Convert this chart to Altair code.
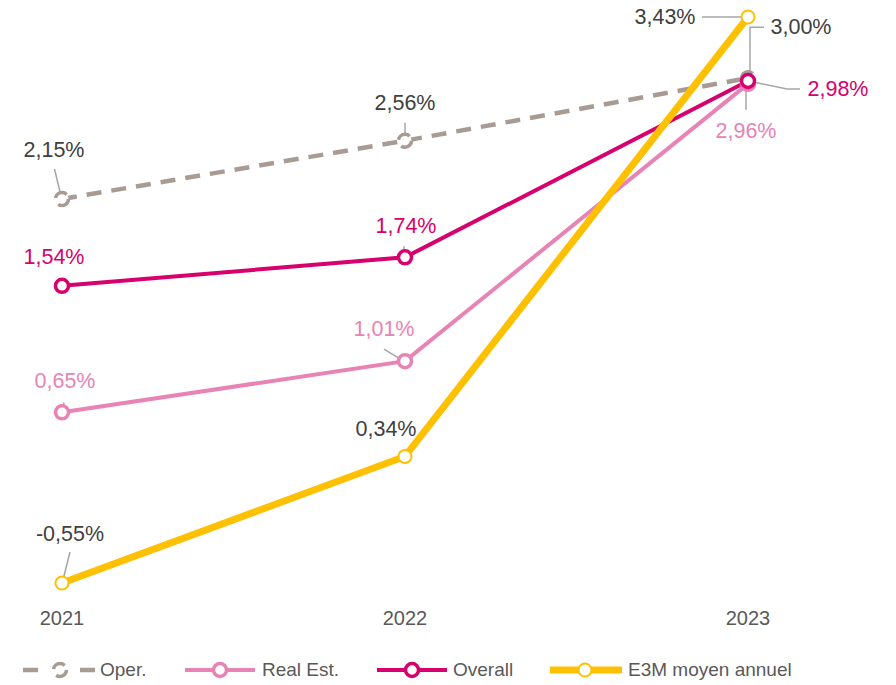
import altair as alt
import pandas as pd

# ---- data ----
years = [2021, 2022, 2023]
series = ["Oper.", "Real Est.", "Overall", "E3M moyen annuel"]
oper = [2.15, 2.56, 3.00]
real_est = [0.65, 1.01, 2.96]
overall = [1.54, 1.74, 2.98]
e3m = [-0.55, 0.34, 3.43]
values = {"Oper.": oper, "Real Est.": real_est, "Overall": overall, "E3M moyen annuel": e3m}

# ---- styles ----
FONT = "Liberation Sans, Arial, sans-serif"
DARK = "#404040"
GREY_TXT = "#595959"
LEADER = "#a6a6a6"
colors = {"Oper.": "#a79b94", "Real Est.": "#e883b5", "Overall": "#d6006e", "E3M moyen annuel": "#ffc000"}
widths = {"Oper.": 4.5, "Real Est.": 4, "Overall": 4, "E3M moyen annuel": 7}
dashes = {"Oper.": [15, 10]}
pt_stroke = {"Oper.": 3.5, "Real Est.": 3.5, "Overall": 3.5, "E3M moyen annuel": 2}
pt_size = {"Oper.": 170, "Real Est.": 170, "Overall": 170, "E3M moyen annuel": 170}
label_color = {"Oper.": DARK, "Real Est.": "#e883b5", "Overall": "#d6006e", "E3M moyen annuel": DARK}

X_RANGE = [54, 740]
Y_DOMAIN = [-0.55, 3.43]
Y_RANGE = [575, 9]
px_per_year = (X_RANGE[1] - X_RANGE[0]) / (years[-1] - years[0])
px_per_unit = (Y_RANGE[0] - Y_RANGE[1]) / (Y_DOMAIN[1] - Y_DOMAIN[0])

xs = alt.Scale(domain=[years[0], years[-1]], range=X_RANGE)
ys = alt.Scale(domain=Y_DOMAIN, range=Y_RANGE)

# label offsets in pixels (dx, dy) from each point, and leader polylines
label_off = {
    ("Oper.", 0): (-8, -48), ("Oper.", 1): (0, -37), ("Oper.", 2): (53, -50),
    ("Overall", 0): (-8, -28), ("Overall", 1): (1, -30), ("Overall", 2): (90, 9),
    ("Real Est.", 0): (3, -30), ("Real Est.", 1): (-21, -31), ("Real Est.", 2): (-2, 48),
    ("E3M moyen annuel", 0): (8, -48), ("E3M moyen annuel", 1): (-19, -26), ("E3M moyen annuel", 2): (-83, 1),
}
leaders = {
    ("Oper.", 0): [(-1, -3), (-7.5, -30)],
    ("Oper.", 1): [(0, -5), (0, -18)],
    ("Oper.", 2): [(16, -51), (2, -51), (2, -4)],
    ("Overall", 1): [(-1, -3), (-1, -11)],
    ("Overall", 2): [(5, 1), (39, 8), (52, 8)],
    ("Real Est.", 0): [(0, -2), (2, -10)],
    ("Real Est.", 1): [(-3, -1), (-21, -12)],
    ("Real Est.", 2): [(-2, 4), (-2, 26)],
    ("E3M moyen annuel", 0): [(1, -3), (8, -31)],
    ("E3M moyen annuel", 2): [(-3, 0), (-46, 0)],
}

def fmt(v):
    return f"{v:.2f}".replace(".", ",") + "%"

layers = []

# leader lines
rows = []
for (s, i), pts in leaders.items():
    v = values[s][i]
    for k, (dx, dy) in enumerate(pts):
        rows.append({"lid": f"{s}-{i}", "k": k,
                     "x": years[i] + dx / px_per_year,
                     "y": v - dy / px_per_unit})
ldf = pd.DataFrame(rows)
layers.append(alt.Chart(ldf).mark_line(color=LEADER, strokeWidth=1.5).encode(
    x=alt.X("x:Q", scale=xs, axis=None),
    y=alt.Y("y:Q", scale=ys, axis=None),
    detail="lid:N", order="k:Q"))

# series lines and points
for s in series:
    df = pd.DataFrame({"year": years, "value": values[s]})
    kw = {}
    if s in dashes:
        kw["strokeDash"] = dashes[s]
    layers.append(alt.Chart(df).mark_line(color=colors[s], strokeWidth=widths[s], **kw).encode(
        x=alt.X("year:Q", scale=xs, axis=None),
        y=alt.Y("value:Q", scale=ys, axis=None)))
for s in series:
    df = pd.DataFrame({"year": years, "value": values[s]})
    kw = {}
    if s in dashes:
        kw["strokeDash"] = [14, 7]
    layers.append(alt.Chart(df).mark_point(shape="circle", filled=True, fill="white", stroke=colors[s],
                                           strokeWidth=pt_stroke[s], size=pt_size[s], opacity=1, **kw).encode(
        x=alt.X("year:Q", scale=xs, axis=None),
        y=alt.Y("value:Q", scale=ys, axis=None)))

# data labels
lrows = []
for (s, i), (dx, dy) in label_off.items():
    v = values[s][i]
    lrows.append({"x": years[i] + dx / px_per_year, "y": v - dy / px_per_unit,
                  "label": fmt(v), "col": label_color[s]})
tdf = pd.DataFrame(lrows)
layers.append(alt.Chart(tdf).mark_text(font=FONT, fontSize=21.5, align="center", baseline="middle").encode(
    x=alt.X("x:Q", scale=xs, axis=None),
    y=alt.Y("y:Q", scale=ys, axis=None),
    text="label:N",
    color=alt.Color("col:N", scale=None)))

# year labels
ydf = pd.DataFrame({"year": years, "lab": [str(y) for y in years]})
layers.append(alt.Chart(ydf).mark_text(font=FONT, fontSize=20, align="center", baseline="middle",
                                       color=GREY_TXT).encode(
    x=alt.X("year:Q", scale=xs, axis=None),
    y=alt.value(611),
    text="lab:N"))

# legend (manual)
one = pd.DataFrame({"a": [0]})
LY = 662
leg = [
    # series, line x0, x1, circle x, text x
    ("Oper.", 15, 87, 52, 92),
    ("Real Est.", 177, 247, 212, 254),
    ("Overall", 369, 439, 404, 445),
    ("E3M moyen annuel", 542, 614, 577, 620),
]
for s, x0, x1, cx, tx in leg:
    kw = {}
    if s in dashes:
        kw["strokeDash"] = [15, 42]
    layers.append(alt.Chart(one).mark_rule(color=colors[s], strokeWidth=widths[s], **kw).encode(
        x=alt.value(x0), x2=alt.value(x1), y=alt.value(LY)))
    pkw = {}
    if s in dashes:
        pkw["strokeDash"] = [14, 7]
    layers.append(alt.Chart(one).mark_point(shape="circle", filled=True, fill="white", stroke=colors[s],
                                            strokeWidth=pt_stroke[s], size=pt_size[s], opacity=1, **pkw).encode(
        x=alt.value(cx), y=alt.value(LY)))
    layers.append(alt.Chart(one).mark_text(font=FONT, fontSize=19, align="left", baseline="middle",
                                           color=GREY_TXT, text=s).encode(
        x=alt.value(tx), y=alt.value(LY)))

chart = alt.layer(*layers).properties(
    width=880, height=677,
    autosize=alt.AutoSizeParams(type="none"),
    padding={"left": 0, "right": 0, "top": 0, "bottom": 0},
).configure_view(stroke=None)

chart.save("out.html", embed_options={"renderer": "svg", "actions": False})
